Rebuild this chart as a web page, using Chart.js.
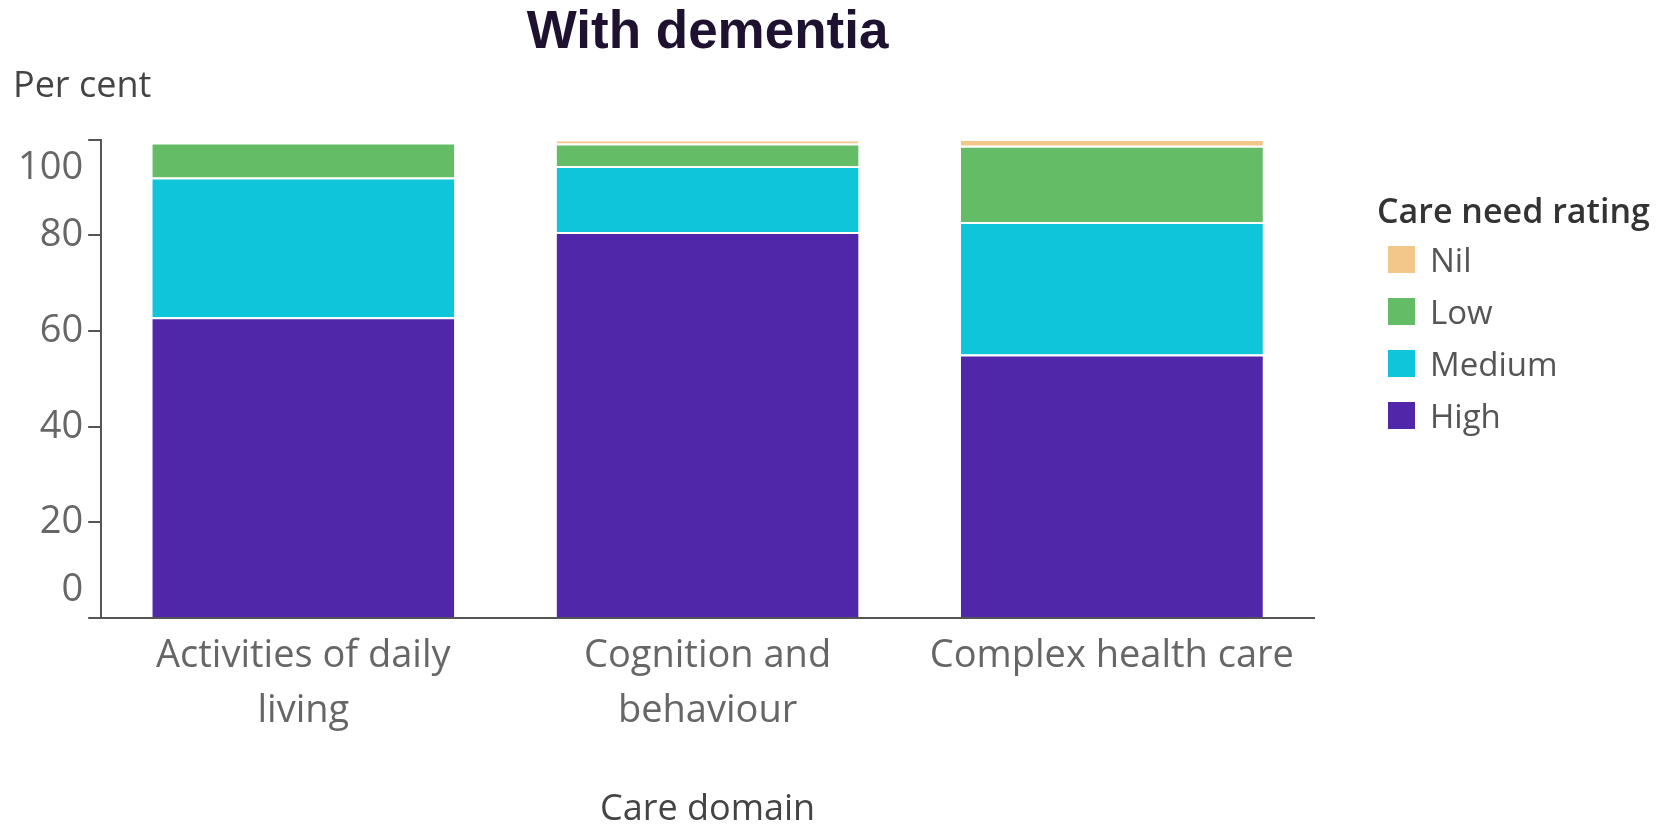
<!DOCTYPE html>
<html>
<head>
<meta charset="utf-8">
<title>With dementia</title>
<script src="https://cdn.jsdelivr.net/npm/chart.js@4.4.1/dist/chart.umd.min.js"></script>
<style>
  body { margin: 0; background: #fff; }
  #wrap { position: relative; width: 1668px; height: 826px; }
  #legend { position: absolute; left: 1377px; top: 188px; font-family: "Open Sans", sans-serif; }
  #legend .title { font-size: 34px; font-weight: 600; color: #333; line-height: 45px; white-space: nowrap; }
  #legend .item { display: flex; align-items: center; height: 52px; font-size: 33px; color: #555; }
  #legend .swatch { width: 27px; height: 27px; margin-left: 11px; margin-right: 15px; }
</style>
</head>
<body>
<div id="wrap">
  <canvas id="chart"></canvas>
  <div id="legend"></div>
</div>
<script>
// care domains on the x axis
const categories = [["Activities of daily", "living"], ["Cognition and", "behaviour"], "Complex health care"];

// per cent of people with dementia by care need rating
const high = [62.9, 80.7, 55.1];
const medium = [29.2, 13.8, 27.7];
const low = [7.3, 4.7, 15.9];
const nil = [0, 0.8, 1.4];

const seriesNames = ["High", "Medium", "Low", "Nil"];
const seriesColors = ["#5127a9", "#0fc5da", "#64bc66", "#f3c78a"];
const yTicks = [0, 20, 40, 60, 80, 100];

const font = "'Open Sans', sans-serif";

const datasets = [high, medium, low, nil].map((values, i) => ({
  label: seriesNames[i],
  data: values,
  backgroundColor: seriesColors[i],
  borderColor: "rgba(255,255,255,0.9)",
  borderWidth: { top: 2, left: 0, right: 0, bottom: 0 },
  borderSkipped: false,
  barPercentage: 0.747,
  categoryPercentage: 1
}));

const chart = new Chart(document.getElementById("chart"), {
  type: "bar",
  data: { labels: categories, datasets },
  options: {
    responsive: true,
    maintainAspectRatio: false,
    animation: false,
    layout: { padding: { left: 13, right: 354, top: 0, bottom: 1 } },
    plugins: {
      legend: { display: false },
      tooltip: { enabled: false },
      title: {
        display: true,
        text: "With dementia",
        fullSize: false,
        color: "#1f1130",
        font: { family: "'Liberation Sans', Arial, sans-serif", size: 53, weight: "bold", lineHeight: 1.2 },
        padding: { top: 2, bottom: 0 }
      },
      subtitle: {
        display: true,
        text: "Per cent",
        align: "start",
        color: "#444",
        font: { family: font, size: 36, lineHeight: 1 },
        padding: { top: 3, bottom: 35 }
      }
    },
    scales: {
      x: {
        stacked: true,
        grid: { display: false, drawTicks: false },
        border: { display: true, color: "#555", width: 2 },
        ticks: {
          color: "#666",
          font: { family: font, size: 38, lineHeight: 1.45 },
          padding: 10,
          maxRotation: 0,
          autoSkip: false
        },
        title: {
          display: true,
          text: "Care domain",
          color: "#444",
          font: { family: font, size: 36, lineHeight: 0.85 },
          padding: { top: 46, bottom: 0 }
        }
      },
      y: {
        stacked: true,
        min: 0,
        max: 100,
        afterBuildTicks: axis => { axis.ticks = yTicks.map(v => ({ value: v })); },
        ticks: {
          color: "#666",
          font: { family: font, size: 38, lineHeight: 0.75 },
          padding: 5,
          // the end labels sit inside the axis, as in the original
          callback: v => v === 100 ? ["", "", "100"] : v === 0 ? ["0", "", ""] : String(v)
        },
        grid: { drawOnChartArea: false, color: "#555", lineWidth: 2, tickLength: 13, tickWidth: 2 },
        border: { display: true, color: "#555", width: 2 }
      }
    }
  }
});

const legend = document.getElementById("legend");
const legendTitle = document.createElement("div");
legendTitle.className = "title";
legendTitle.innerText = "Care need rating";
legend.appendChild(legendTitle);
for (const ds of [...datasets].reverse()) {
  const item = document.createElement("div");
  item.className = "item";
  const swatch = document.createElement("span");
  swatch.className = "swatch";
  swatch.style.background = ds.backgroundColor;
  const text = document.createElement("span");
  text.innerText = ds.label;
  item.appendChild(swatch);
  item.appendChild(text);
  legend.appendChild(item);
}
</script>
</body>
</html>
